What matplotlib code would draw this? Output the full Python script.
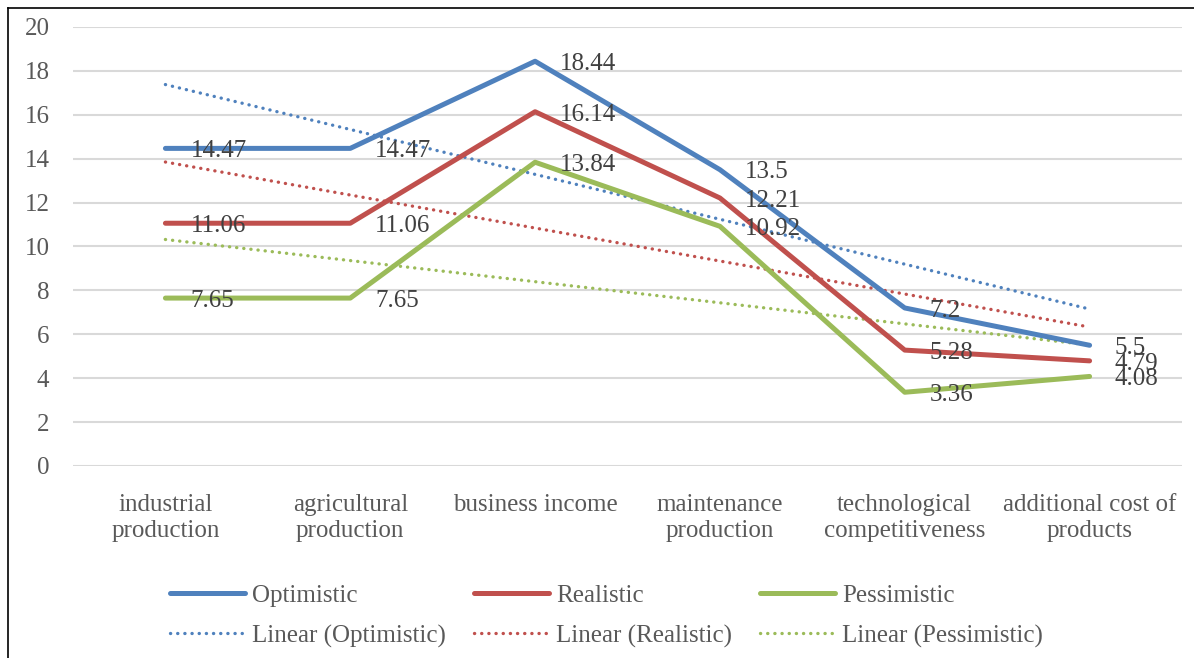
import numpy as np
import matplotlib.pyplot as plt
from matplotlib.lines import Line2D

categories = ["industrial\nproduction", "agricultural\nproduction", "business income",
              "maintenance\nproduction", "technological\ncompetitiveness",
              "additional cost of\nproducts"]
optimistic = [14.47, 14.47, 18.44, 13.5, 7.2, 5.5]
realistic = [11.06, 11.06, 16.14, 12.21, 5.28, 4.79]
pessimistic = [7.65, 7.65, 13.84, 10.92, 3.36, 4.08]

series = [("Optimistic", optimistic, "#4F81BD"),
          ("Realistic", realistic, "#C0504D"),
          ("Pessimistic", pessimistic, "#9BBB59")]

plt.rcParams['font.family'] = ['Liberation Serif', 'DejaVu Serif']
txt = "#595959"
lbl = "#404040"

fig = plt.figure(figsize=(11.94, 6.58), dpi=100)
ax = fig.add_axes([73 / 1194, 1 - 466 / 658, 1109 / 1194, 439 / 658])

x = np.arange(len(categories))
handles = []
for name, vals, col in series:
    l, = ax.plot(x, vals, color=col, lw=3.6, solid_capstyle='round',
                 solid_joinstyle='round', zorder=3, label=name)
    k, b = np.polyfit(x, vals, 1)
    t, = ax.plot(x, k * x + b, color=col, lw=2.4, linestyle=(0, (0.05, 2.1)),
                 dash_capstyle='round', zorder=2, label="Linear (%s)" % name)
    # legend fills column by column, so pair each series with its trend
    handles += [l, t]

for name, vals, col in series:
    for xi, v in zip(x, vals):
        ax.annotate("%g" % v, (xi, v), xytext=(18, -2), textcoords='offset points',
                    ha='left', va='center', fontsize=18, color=lbl, zorder=5)

ax.set_xlim(-0.5, 5.5)
ax.set_ylim(0, 20)
ax.set_yticks(range(0, 21, 2))
ax.set_xticks(x)
ax.set_xticklabels(categories, fontsize=18, color=txt, linespacing=1.25)
ax.tick_params(axis='y', labelsize=18, labelcolor=txt, length=0, pad=17)
ax.tick_params(axis='x', length=0, pad=20)
ax.grid(axis='y', color='#D9D9D9', lw=1.5)
ax.set_axisbelow(True)
for s in ax.spines.values():
    s.set_visible(False)

fig.legend(handles, [h.get_label() for h in handles], ncol=3,
           loc='center', bbox_to_anchor=(0.508, 1 - 616 / 658), frameon=False,
           fontsize=18, labelcolor=txt, handlelength=3.0, handletextpad=0.3,
           columnspacing=1.1, labelspacing=0.7)

fig.add_artist(Line2D([8 / 1194, 8 / 1194], [0, 1 - 8 / 658], color='black', lw=1.2))
fig.add_artist(Line2D([8 / 1194, 1], [1 - 8 / 658, 1 - 8 / 658], color='black', lw=1.2))

fig.savefig("out.png", dpi=100)
